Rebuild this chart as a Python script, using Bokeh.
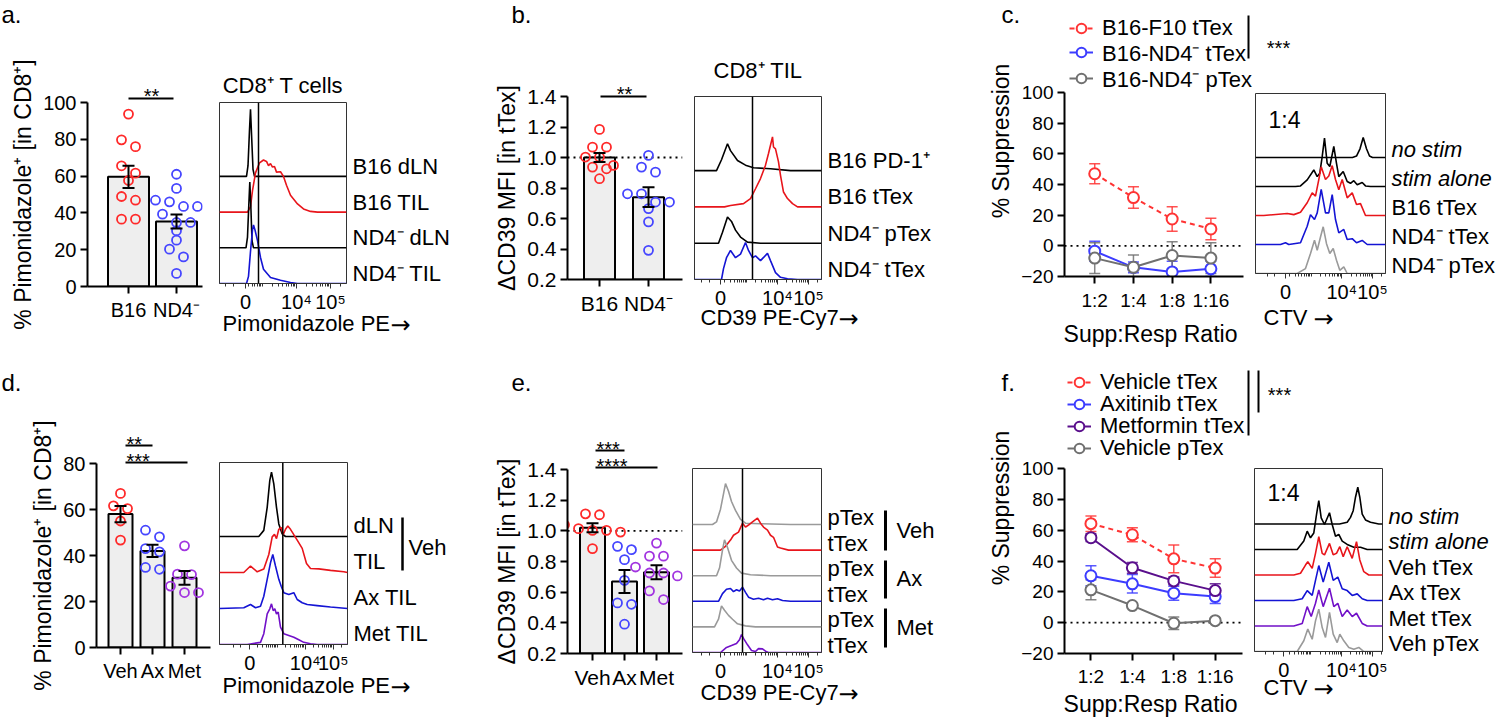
import math
from bokeh.plotting import figure
from bokeh.models import (Range1d, FixedTicker, Label, Span, Whisker, TeeHead,
                          ColumnDataSource, Legend, LegendItem)
from bokeh.embed import file_html
from bokeh.resources import INLINE
from bokeh.core.properties import value

FONT = "Liberation Sans"
ARROW_FONT = "DejaVu Sans"

# ======================= DATA =======================
# a. bar chart
a_cats = ["B16", "ND4⁻"]
a_b16 = [93.7, 79.7, 76.0, 65.6, 61.6, 57.6, 48.9, 46.9, 36.6, 36.6]
a_nd4 = [61.0, 53.3, 46.9, 46.0, 43.5, 43.5, 39.3, 34.8, 34.8, 30.3, 25.2, 20.3, 16.1, 7.1]
a_mean = [59.6, 35.3]
a_sem = [6.0, 3.8]
a_yticks = [0, 20, 40, 60, 80, 100]

# b. bar chart
b_cats = ["B16", "ND4⁻"]
b_b16 = [1.184, 1.068, 1.068, 1.003, 1.003, 0.948, 0.937, 0.926, 0.861]
b_nd4 = [1.014, 0.937, 0.904, 0.762, 0.762, 0.708, 0.708, 0.665, 0.578, 0.391]
b_mean = [1.0, 0.74]
b_sem = [0.03, 0.065]
b_yticks = [0.2, 0.4, 0.6, 0.8, 1.0, 1.2, 1.4]

# d. bar chart
d_cats = ["Veh", "Ax", "Met"]
d_veh = [67.0, 61.6, 60.4, 55.0, 46.7]
d_ax = [51.0, 48.1, 43.0, 41.6, 34.8, 34.0]
d_met = [44.2, 31.9, 31.7, 26.7, 23.9, 23.9]
d_mean = [58.0, 42.0, 30.3]
d_sem = [3.5, 2.7, 3.0]
d_yticks = [0, 20, 40, 60, 80]

# e. bar chart
e_cats = ["Veh", "Ax", "Met"]
e_veh = [1.111, 1.105, 1.04, 1.014, 1.003, 1.003, 0.992, 0.884]
e_ax = [0.899, 0.877, 0.812, 0.677, 0.53, 0.521, 0.391]
e_met = [0.92, 0.835, 0.835, 0.764, 0.725, 0.725, 0.706, 0.608, 0.552]
e_mean = [1.02, 0.67, 0.73]
e_sem = [0.03, 0.075, 0.045]
e_yticks = [0.2, 0.4, 0.6, 0.8, 1.0, 1.2, 1.4]

# c. suppression
c_cats = ["1:2", "1:4", "1:8", "1:16"]
c_f10_ttex = [47.0, 31.5, 17.5, 11.0]
c_f10_ttex_err = [6.5, 7.0, 8.0, 7.0]
c_nd4_ttex = [-3.5, -14.0, -17.0, -15.0]
c_nd4_ttex_err = [6.5, 3.5, 7.0, 5.0]
c_nd4_ptex = [-8.0, -14.0, -6.3, -8.0]
c_nd4_ptex_err = [10.0, 8.0, 9.0, 10.0]
c_yticks = [-20, 0, 20, 40, 60, 80, 100]

# f. suppression
f_cats = ["1:2", "1:4", "1:8", "1:16"]
f_veh_ttex = [64.2, 57.0, 41.4, 35.4]
f_veh_ttex_err = [5.0, 4.5, 9.0, 6.0]
f_axi_ttex = [30.4, 25.2, 19.1, 16.9]
f_axi_ttex_err = [6.5, 6.0, 4.5, 4.5]
f_met_ttex = [55.1, 35.6, 27.1, 20.8]
f_met_ttex_err = [2.5, 3.5, 2.5, 4.5]
f_veh_ptex = [21.3, 11.1, -0.4, 1.3]
f_veh_ptex_err = [6.5, 1.5, 4.0, 1.5]
f_yticks = [-20, 0, 20, 40, 60, 80, 100]

# histograms: (channel, height in track units); listed top track to bottom track
hist_tick_labels = ["0", "10⁴", "10⁵"]

ha_b16_dln = [(0, 0), (27, 0), (28.5, 0.3), (30, 1.3), (31, 1.88), (32, 1.2), (33.5, 0.2), (35, 0), (127, 0)]
ha_b16_til = [(0, 0), (28, 0), (31, 0.15), (33, 0.6), (36, 1.1), (40, 1.38), (44, 1.46), (47, 1.42), (49, 1.3),
              (51, 1.36), (53, 1.26), (55, 1.28), (57, 1.12), (61, 1.13), (64, 1.0), (67, 0.75), (71, 0.47),
              (78, 0.23), (84, 0.09), (91, 0.02), (98, 0), (127, 0)]
ha_nd4_dln = [(0, 0), (26.5, 0), (28, 0.3), (29.3, 1.2), (30.3, 1.84), (31.3, 1.2), (32.5, 0.2), (34, 0), (127, 0)]
ha_nd4_til = [(0, 0), (27, 0), (29, 0.2), (31, 0.9), (33, 1.5), (34, 1.64), (35.5, 1.5), (38, 1.2), (41, 0.73),
              (44, 0.4), (51, 0.17), (61, 0.09), (71, 0.03), (78, 0), (127, 0)]
ha_labels = ["B16 dLN", "B16 TIL", "ND4⁻ dLN", "ND4⁻ TIL"]
ha_gate = 39
ha_ticks = [26, 77, 111]

hb_b16_pd1 = [(0, 0), (22, 0), (27, 0.3), (33, 0.74), (36, 0.55), (43, 0.28), (51, 0.15), (59, 0.08), (76, 0.05),
              (96, 0), (127, 0)]
hb_b16_ttex = [(0, 0), (30, 0), (36, 0.04), (49, 0.09), (56, 0.23), (61, 0.5), (66, 0.78), (71, 1.15), (74, 1.47),
               (76, 1.7), (78, 1.93), (79, 1.65), (81, 1.6), (84, 1.24), (86, 0.87), (89, 0.41), (93, 0.23),
               (98, 0.09), (103, 0), (127, 0)]
hb_nd4_ptex = [(0, 0), (24, 0), (28, 0.3), (33, 0.72), (37, 0.6), (41, 0.36), (46, 0.17), (53, 0.03), (66, 0),
               (127, 0)]
hb_nd4_ttex = [(0, 0), (27, 0), (29, 0.3), (32, 0.6), (36, 0.8), (41, 0.6), (46, 0.7), (51, 1.02), (54, 0.8),
               (58, 0.6), (61, 0.65), (66, 0.52), (73, 0.72), (76, 0.52), (81, 0.19), (86, 0.06), (93, 0.02),
               (103, 0), (127, 0)]
hb_labels = ["B16 PD-1⁺", "B16 tTex", "ND4⁻ pTex", "ND4⁻ tTex"]
hb_gate = 58
hb_ticks = [26, 83, 114]

hc_nostim = [(0, 0), (97, 0), (101, 0.05), (104.5, 0.3), (107.7, 0.69), (111, 0.3), (114, 0.05), (117, 0), (130, 0)]
hc_stim = [(0, 0), (40, 0), (45, 0.02), (51.7, 0.23), (58.3, 0.57), (61.7, 0.34), (64.3, 0.46), (66.7, 1.03),
           (69, 1.67), (71.7, 0.8), (74.3, 0.69), (78.3, 1.38), (81, 0.8), (83.3, 0.34), (87.7, 0.52),
           (91.7, 0.17), (95, 0.11), (98.3, 0.2), (101.7, 0.06), (106.7, 0.14), (110, 0.02), (115, 0), (130, 0)]
hc_b16_ttex = [(0, 0), (8.3, 0), (31.7, 0.07), (38.3, 0.03), (45, 0.11), (51.7, 0.44), (56.7, 0.78), (60, 0.67),
               (63.3, 1.24), (65.7, 1.68), (70, 1.24), (73.3, 1.36), (76.7, 1.72), (80, 1.24), (83.3, 0.89),
               (86.7, 1.24), (91.7, 0.61), (96.7, 0.78), (101, 0.38), (105, 0.41), (110, 0), (130, 0)]
hc_nd4_ttex = [(0, 0), (25, 0), (30, 0.06), (33.3, 0), (45, 0.06), (51.7, 0.63), (55, 1.03), (59, 0.86),
               (61.7, 1.09), (65.7, 1.9), (70, 1.09), (73.3, 1.09), (76.7, 1.72), (80, 0.86), (83.3, 0.4),
               (88.3, 0.52), (91.7, 0.17), (96.7, 0.2), (101, 0.06), (106.7, 0.14), (111.7, 0), (130, 0)]
hc_nd4_ptex = [(0, 0), (41.7, 0), (50, 0.17), (55, 0.69), (59, 1.15), (61.7, 0.8), (65, 1.26), (67.7, 1.61),
               (71, 1.03), (74.3, 0.69), (77.7, 0.86), (81, 0.46), (84.3, 0.11), (88.3, 0.23), (91.7, 0), (130, 0)]
hc_labels = ["no stim", "stim alone", "B16 tTex", "ND4⁻ tTex", "ND4⁻ pTex"]
hc_ticks = [30, 86.3, 117]

hd_veh_dln = [(0, 0), (39.3, 0), (44.3, 0.17), (47.7, 0.81), (50.3, 1.56), (52, 1.79), (54.3, 1.46), (57, 0.81),
              (59.3, 0.35), (62.7, 0.07), (66, 0), (128, 0)]
hd_veh_til = [(0, 0), (24.3, 0), (31, 0.18), (37.7, 0.02), (44.3, 0.1), (49.3, 0.5), (52.7, 0.99), (55, 1.06),
              (57, 0.94), (59.3, 1.2), (61.7, 1.25), (63.7, 1.05), (66, 1.2), (68.3, 1.29), (71, 1.2),
              (74.3, 1.05), (77.7, 0.9), (82.7, 0.67), (87, 0.25), (91, 0.11), (99.3, 0.1), (111, 0.06),
              (124.3, 0.02), (128, 0)]
hd_ax_til = [(0, 0), (24.3, 0.02), (31, 0.11), (36, 0.02), (41, 0.06), (44.3, 0.34), (47.7, 0.81), (51, 1.27),
             (53.3, 1.5), (56, 1.18), (59.3, 0.81), (61.7, 0.62), (64.3, 0.44), (69.3, 0.39), (74.3, 0.44),
             (77.7, 0.25), (82.7, 0.16), (87.7, 0.11), (97.7, 0.08), (111, 0.04), (128, 0)]
hd_met_til = [(0, 0), (27.7, 0), (41, 0.06), (44.3, 0.3), (47.7, 0.85), (50.3, 0.99), (52, 1.13), (53.7, 0.94),
              (55.3, 0.99), (57, 0.85), (58.7, 0.9), (61, 0.48), (64.3, 0.3), (69.3, 0.25), (74.3, 0.2),
              (79.3, 0.13), (84.3, 0.06), (91, 0.02), (97.7, 0), (128, 0)]
hd_labels = ["dLN", "TIL", "Ax TIL", "Met TIL"]
hd_gate = 63.3
hd_ticks = [30.3, 85.7, 113.7]

he_veh_ptex = [(0, 0), (20, 0), (24, 0.1), (28, 0.6), (31, 1.2), (33, 1.6), (36, 1.3), (39, 0.9), (43, 0.55),
               (48, 0.2), (53, 0.05), (68, 0.03), (98, 0), (129, 0)]
he_veh_ttex = [(0, 0), (28, 0), (33, 0.15), (38, 0.39), (41, 0.58), (46, 0.7), (50, 1.05), (53, 0.9), (56, 0.98),
               (60, 1.1), (65, 1.25), (68, 1.05), (71, 0.9), (75, 0.78), (78, 0.58), (81, 0.5), (85, 0.12),
               (88, 0.08), (96, 0), (129, 0)]
he_ax_ptex = [(0, 0), (24, 0), (27, 0.3), (30, 1.0), (32, 1.4), (35, 1.1), (39, 0.6), (44, 0.3), (49, 0.1),
              (58, 0.04), (78, 0), (129, 0)]
he_ax_ttex = [(0, 0), (26, 0), (30, 0.3), (34, 0.47), (38, 0.5), (41, 0.38), (44, 0.45), (47, 0.4), (50, 0.55),
              (53, 0.35), (56, 0.16), (61, 0.08), (66, 0.12), (71, 0.06), (75, 0.12), (80, 0.06), (85, 0.1),
              (90, 0.03), (98, 0), (129, 0)]
he_met_ptex = [(0, 0), (22, 0), (26, 0.3), (29, 0.82), (32, 0.65), (36, 0.45), (40, 0.3), (45, 0.12), (53, 0.04),
               (63, 0), (129, 0)]
he_met_ttex = [(0, 0), (28, 0), (34, 0.2), (39, 0.27), (44, 0.35), (47, 0.5), (49, 0.7), (51, 0.55), (55, 0.3),
               (59, 0.08), (63, 0.04), (66, 0.15), (70, 0.14), (73, 0.05), (76, 0), (129, 0)]
he_labels = ["pTex", "tTex", "pTex", "tTex", "pTex", "tTex"]
he_groups = ["Veh", "Ax", "Met"]
he_gate = 50
he_ticks = [28, 85, 116]

hf_nostim = [(0, 0), (85, 0), (92.7, 0.07), (96, 0.26), (98.7, 0.52), (101, 1.05), (103.3, 1.44), (105.3, 1.05),
             (107.7, 0.39), (111, 0.16), (116, 0.07), (124.3, 0), (128, 0)]
hf_stim = [(0, 0), (42.7, 0), (49.3, 0.33), (52.7, 0.72), (56, 0.46), (59.3, 0.65), (62, 1.37), (64.3, 1.92),
           (66.7, 1.24), (70, 0.98), (75, 1.44), (77.7, 0.98), (81, 0.52), (84.3, 0.59), (87.7, 0.33),
           (92.7, 0.2), (99.3, 0.09), (106, 0.09), (112.7, 0), (128, 0)]
hf_veh_ttex = [(0, 0), (39.3, 0), (46, 0.07), (51, 0.39), (53.3, 0.52), (57.7, 0.26), (61, 0.85), (64.3, 1.5),
               (67.7, 0.85), (70, 0.79), (75, 1.24), (78.7, 0.79), (82, 0.85), (85.3, 1.11), (88.7, 0.72),
               (92.7, 1.11), (97.7, 0.65), (102, 1.31), (105.3, 0.59), (109.3, 0.13), (114.3, 0), (128, 0)]
hf_ax_ttex = [(0, 0), (39.3, 0), (47.7, 0.07), (52.7, 0.39), (57.7, 0.2), (61, 0.79), (64.3, 1.37), (68.7, 0.72),
              (74.3, 1.5), (78.7, 0.79), (83.3, 0.92), (87.7, 0.46), (92.7, 0.39), (97.7, 0.2), (102.7, 0.26),
              (107.7, 0.07), (112.7, 0), (128, 0)]
hf_met_ttex = [(0, 0), (39.3, 0), (47.7, 0.1), (52.7, 0.76), (56.7, 0.37), (61, 0.89), (64.3, 1.41), (68.7, 0.76),
               (75, 1.48), (79.3, 0.76), (83.3, 0.89), (87.7, 0.37), (92.7, 0.63), (97.7, 0.37), (102, 0.5),
               (107.7, 0.1), (112.7, 0), (128, 0)]
hf_veh_ptex = [(0, 0), (42.7, 0), (49.3, 0.42), (53.3, 0.88), (57.7, 0.48), (61, 1.2), (64.3, 1.66), (67.7, 0.94),
               (71, 0.55), (75, 1.53), (78.7, 0.68), (82.7, 0.35), (85.3, 0.68), (89.3, 0.42), (94.3, 0.16),
               (99.3, 0.09), (104.3, 0.16), (109.3, 0), (128, 0)]
hf_labels = ["no stim", "stim alone", "Veh tTex", "Ax tTex", "Met tTex", "Veh pTex"]
hf_ticks = [29.3, 87, 117.7]

# ======================= STYLE =======================
RED, BLUE, PURPLE = "#ff2a2a", "#4646ff", "#a235e0"
H_RED, H_BLUE, H_PURPLE, H_GRAY, H_BLACK = "#e8151b", "#1414d4", "#7110c8", "#9a9a9a", "#000000"
L_RED, L_BLUE, L_GRAY, L_PURPLE = "#ff3434", "#3c3cff", "#707070", "#5a0f8c"

ROOTS = []

# full-page transparent layer for free-standing texts and brackets (page pixel coordinates)
ov = figure(width=1500, height=719, x_range=Range1d(0, 1500), y_range=Range1d(719, 0),
            x_axis_type=None, y_axis_type=None, toolbar_location=None, output_backend="svg",
            min_border=0, min_border_left=0, min_border_right=0, min_border_top=0, min_border_bottom=0,
            title=None)
ov.outline_line_color = None
ov.background_fill_alpha = 0
ov.border_fill_alpha = 0
ov.styles = {"position": "absolute", "left": "0px", "top": "0px"}


def otext(x, y, s, size="22px", align="left", style="normal", font=FONT):
    ov.add_layout(Label(x=x, y=y, text=s, text_font=font, text_font_size=size, text_align=align,
                        text_baseline="middle", text_font_style=style, text_color="black"))


def oline(x0, y0, x1, y1, w=2.0):
    ov.segment(x0=[x0], y0=[y0], x1=[x1], y1=[y1], line_color="black", line_width=w)


def arrow_label(x, y, s, arrow_x):
    otext(x, y, s)
    otext(arrow_x, y + 1, "→", size="24px", font=ARROW_FONT)


class Geo:
    """canvas (ox, oy, w, h) and axis extents (L, R, T, B) in page pixels; the plot frame may
    extend further right / up (FR, FT) so that legends are not clipped"""
    def __init__(self, ox, oy, w, h, L, R, T, B, FR=None, FT=None):
        self.ox, self.oy, self.w, self.h = ox, oy, w, h
        self.L, self.R, self.T, self.B = L, R, T, B
        self.FR = R if FR is None else FR
        self.FT = T if FT is None else FT

    def fig(self, xr, yr, **kw):
        p = figure(width=self.w, height=self.h,
                   x_range=Range1d(xr[0], xr[1]), y_range=Range1d(yr[0], yr[1]),
                   min_border_left=self.L - self.ox, min_border_right=self.ox + self.w - self.FR,
                   min_border_top=self.FT - self.oy, min_border_bottom=self.oy + self.h - self.B,
                   toolbar_location=None, output_backend="svg", title=None, **kw)
        p.xgrid.visible = False
        p.ygrid.visible = False
        p.outline_line_color = None
        p.background_fill_alpha = 0
        p.border_fill_alpha = 0
        p.styles = {"position": "absolute", "left": f"{self.ox}px", "top": f"{self.oy}px"}
        ROOTS.append(p)
        return p


def cal(v1, p1, v2, p2, q_lo, q_hi):
    k = (v2 - v1) / (p2 - p1)
    return (v1 + (q_lo - p1) * k, v1 + (q_hi - p1) * k)


def style_axis(ax, size="20px", tick_out=7, standoff=4):
    ax.axis_line_width = 2
    ax.axis_line_color = "black"
    ax.major_tick_line_width = 2
    ax.major_tick_line_color = "black"
    ax.major_tick_out = tick_out
    ax.major_tick_in = 0
    ax.minor_tick_line_color = None
    ax.major_label_text_font = FONT
    ax.major_label_text_font_size = size
    ax.major_label_text_color = "black"
    ax.major_label_standoff = standoff
    ax.axis_label_text_font = FONT
    ax.axis_label_text_font_size = "23px"
    ax.axis_label_text_font_style = "normal"
    ax.axis_label_text_color = "black"
    ax.axis_label_standoff = 4


def swarm_offsets(vals, ppu, step=14.0, gap=9.0):
    order = sorted(range(len(vals)), key=lambda i: -vals[i])
    rows = []
    for i in order:
        if rows and (vals[rows[-1][0]] - vals[i]) * ppu <= gap:
            rows[-1].append(i)
        else:
            rows.append([i])
    offs = [0.0] * len(vals)
    for r in rows:
        n = len(r)
        for j, i in enumerate(r):
            offs[i] = (j - (n - 1) / 2) * step
    return offs


def bar_panel(g, cats, groups, means, sems, colors, ycal, cpos, barw_px, yticks, ylabel,
              tick_size="20px", decimals=0, refline=None):
    xr = cal(0, cpos[0], 1, cpos[1], g.L, g.FR)
    yr = cal(ycal[0], ycal[1], ycal[2], ycal[3], g.B, g.FT)
    p = g.fig(xr, yr)
    step_px = cpos[1] - cpos[0]
    ppu = (ycal[1] - ycal[3]) / (ycal[2] - ycal[0])
    idx = list(range(len(cats)))
    if refline is not None:
        p.add_layout(Span(location=refline, dimension="width", line_color="black", line_width=1.8,
                          line_dash="2 4", level="underlay"))
    p.vbar(x=idx, top=means, bottom=yr[0], width=barw_px / step_px, fill_color="#eeeeee",
           line_color="black", line_width=2)
    src = ColumnDataSource(dict(x=idx, up=[m + e for m, e in zip(means, sems)],
                                lo=[m - e for m, e in zip(means, sems)]))
    p.add_layout(Whisker(base="x", upper="up", lower="lo", source=src, dimension="height",
                         line_color="black", line_width=2, level="overlay",
                         upper_head=TeeHead(size=12, line_color="black", line_width=2),
                         lower_head=TeeHead(size=12, line_color="black", line_width=2)))
    for i, (vals, col) in enumerate(zip(groups, colors)):
        offs = swarm_offsets(vals, ppu)
        p.scatter(x=[i + o / step_px for o in offs], y=vals, marker="circle", size=9,
                  fill_alpha=0, line_color=col, line_width=1.8)
    yax, xax = p.yaxis[0], p.xaxis[0]
    style_axis(yax, tick_size)
    style_axis(xax, tick_size, standoff=5)
    yax.ticker = FixedTicker(ticks=yticks)
    yax.bounds = (yticks[0], yticks[-1])
    if decimals:
        yax.major_label_overrides = {t: f"{t:.{decimals}f}" for t in yticks}
    yax.axis_label = ylabel
    xax.ticker = FixedTicker(ticks=idx)
    xax.major_label_overrides = {i: c for i, c in enumerate(cats)}
    return p


def legend_kw(size, row_h):
    return dict(margin=0, glyph_width=24, glyph_height=row_h, label_height=row_h, label_standoff=9,
                label_text_font=FONT, label_text_font_size=size, label_text_color="black",
                border_line_color=None, background_fill_alpha=0)


def line_panel(g, cats, cpos, ycal, series, yticks, ylabel, leg_size, leg_rows, leg_x,
               tick_out=7, tick_standoff=5):
    xr = cal(0, cpos[0], 1, cpos[1], g.L, g.FR)
    yr = cal(ycal[0], ycal[1], ycal[2], ycal[3], g.B, g.FT)
    x_axis_end = cal(0, cpos[0], 1, cpos[1], g.L, g.R)[1]
    p = g.fig(xr, yr)
    # dotted reference line at 0 along the x axis extent
    p.segment(x0=[xr[0]], y0=[0], x1=[x_axis_end], y1=[0], line_color="black", line_width=1.8,
              line_dash="2 4", level="underlay")
    idx = list(range(len(cats)))
    items = []
    for name, vals, errs, col, dash in series:
        src = ColumnDataSource(dict(x=idx, y=vals, up=[v + e for v, e in zip(vals, errs)],
                                    lo=[v - e for v, e in zip(vals, errs)]))
        p.add_layout(Whisker(base="x", upper="up", lower="lo", source=src, dimension="height",
                             line_color=col, line_width=1.5, line_alpha=0.85, level="underlay",
                             upper_head=TeeHead(size=11, line_color=col, line_width=1.5, line_alpha=0.85),
                             lower_head=TeeHead(size=11, line_color=col, line_width=1.5, line_alpha=0.85)))
        r1 = p.line("x", "y", source=src, line_color=col, line_width=2, line_dash=dash)
        r2 = p.scatter("x", "y", source=src, marker="circle", size=11, fill_color="white",
                       line_color=col, line_width=2)
        items.append(LegendItem(label=value(name), renderers=[r1, r2]))
    row_h = 26
    for item, yc in zip(items, leg_rows):
        p.add_layout(Legend(items=[item], location=(leg_x - g.L, g.B - (yc + row_h / 2)), padding=0,
                            spacing=0, **legend_kw(leg_size, row_h)))
    yax, xax = p.yaxis[0], p.xaxis[0]
    style_axis(yax, "19px")
    style_axis(xax, "19px", tick_out=tick_out, standoff=tick_standoff)
    yax.ticker = FixedTicker(ticks=yticks)
    yax.bounds = (yticks[0], yticks[-1])
    yax.axis_label = ylabel
    xax.ticker = FixedTicker(ticks=idx)
    xax.bounds = (xr[0], x_axis_end)
    xax.major_label_overrides = {i: c for i, c in enumerate(cats)}
    return p


def flow_minor(ticks, width):
    t0, t4, t5 = ticks
    dw = t5 - t4
    out = []
    for base in (t4 - 2 * dw, t4 - dw, t4, t5):
        for m in range(1, 10):
            v = base + dw * math.log10(m)
            if t0 + 3 < v < width - 1 and all(abs(v - t) > 0.5 for t in ticks):
                out.append(round(v, 2))
    for f in (-0.6, -0.35):
        v = t0 + f * dw
        if v > 1:
            out.append(round(v, 2))
    return out


def hist_panel(g, curves, labels, track_px, label_dy, gate, ticks, italic=()):
    width = g.R - g.L
    H = (g.B - g.T) / track_px
    p = g.fig((0, width), (0, H), y_axis_type=None)
    p.outline_line_color = "#333333"
    p.outline_line_width = 1
    n = len(curves)
    for j, (pts, col) in enumerate(curves):
        k = n - 1 - j
        p.line(x=[q[0] for q in pts], y=[q[1] + k for q in pts], line_color=col, line_width=1.6)
    if gate is not None:
        p.add_layout(Span(location=gate, dimension="height", line_color="black", line_width=1.5))
    ax = p.xaxis[0]
    ax.ticker = FixedTicker(ticks=ticks, minor_ticks=flow_minor(ticks, width))
    ax.major_label_overrides = {t: l for t, l in zip(ticks, hist_tick_labels)}
    ax.axis_line_color = "#333333"
    ax.axis_line_width = 1
    ax.major_tick_out = 5
    ax.major_tick_in = 0
    ax.major_tick_line_width = 1
    ax.major_tick_line_color = "#333333"
    ax.minor_tick_out = 3
    ax.minor_tick_in = 0
    ax.minor_tick_line_width = 1
    ax.minor_tick_line_color = "#333333"
    ax.major_label_standoff = 2
    ax.major_label_text_font = FONT
    ax.major_label_text_font_size = "20px"
    ax.major_label_text_color = "black"
    # track labels on the right of the box
    for j, lab in enumerate(labels):
        k = n - 1 - j
        otext(g.R + 6, g.B - k * track_px - label_dy, lab,
              style="italic" if j in italic else "normal")
    return p


# ======================= PANELS (page px geometry) =======================
# ---- a ----
gA1 = Geo(0, 60, 215, 300, 87, 202, 102, 286)
bar_panel(gA1, a_cats, [a_b16, a_nd4], a_mean, a_sem, [RED, BLUE], (0, 286, 100, 102), (128, 176), 41,
          a_yticks, "% Pimonidazole⁺ [in CD8⁺]", "20px")
oline(128, 98, 173, 98)
otext(151, 95, "**", size="20px", align="center")
otext(1, 14, "a.", size="24px")

gA2 = Geo(210, 90, 150, 260, 219, 346, 102, 283)
hist_panel(gA2, [(ha_b16_dln, H_BLACK), (ha_b16_til, H_RED), (ha_nd4_dln, H_BLACK), (ha_nd4_til, H_BLUE)],
           ha_labels, 35.7, 10, ha_gate, ha_ticks)
otext(282.5, 85, "CD8⁺ T cells", align="center")
arrow_label(222, 323, "Pimonidazole PE", 390)

# ---- b ----
gB1 = Geo(490, 60, 200, 290, 567, 682, 96, 279)
bar_panel(gB1, b_cats, [b_b16, b_nd4], b_mean, b_sem, [RED, BLUE], (0.2, 279, 1.4, 96), (599, 648), 31,
          b_yticks, "ΔCD39 MFI [in tTex]", "21px", decimals=1, refline=1.0)
oline(600, 96, 646, 96)
otext(624, 93.5, "**", size="20px", align="center")
otext(511, 14, "b.", size="24px")

gB2 = Geo(685, 85, 150, 265, 694, 821, 96, 279)
hist_panel(gB2, [(hb_b16_pd1, H_BLACK), (hb_b16_ttex, H_RED), (hb_nd4_ptex, H_BLACK), (hb_nd4_ttex, H_BLUE)],
           hb_labels, 36.3, 10, hb_gate, hb_ticks)
otext(757.5, 70, "CD8⁺ TIL", align="center")
arrow_label(700, 317, "CD39 PE-Cy7", 838)

# ---- c ----
gC1 = Geo(985, 0, 320, 350, 1058, 1242, 92, 276, FR=1300, FT=5)
line_panel(gC1, c_cats, (1089, 1128.7), (-20, 276, 100, 92),
           [("B16-F10 tTex", c_f10_ttex, c_f10_ttex_err, L_RED, "5 4"),
            ("B16-ND4⁻ tTex", c_nd4_ttex, c_nd4_ttex_err, L_BLUE, "solid"),
            ("B16-ND4⁻ pTex", c_nd4_ptex, c_nd4_ptex_err, L_GRAY, "solid")],
           c_yticks, "% Suppression", "22px", [28, 54, 80], 1063,
           tick_out=7, tick_standoff=6)
otext(1150, 333, "Supp:Resp Ratio", size="23px", align="center")
otext(1001, 14, "c.", size="24px")
oline(1248, 15, 1248, 58)
otext(1278, 47.5, "***", size="20px", align="center")

gC2 = Geo(1245, 85, 150, 265, 1255, 1385, 93, 273)
hist_panel(gC2, [(hc_nostim, H_BLACK), (hc_stim, H_BLACK), (hc_b16_ttex, H_RED), (hc_nd4_ttex, H_BLUE),
                 (hc_nd4_ptex, H_GRAY)],
           hc_labels, 29, 8, None, hc_ticks, italic=(0, 1))
otext(1268, 119, "1:4", size="23px")
arrow_label(1263, 317, "CTV ", 1313)

# ---- d ----
gD1 = Geo(0, 420, 215, 295, 96, 210, 463, 647)
bar_panel(gD1, d_cats, [d_veh, d_ax, d_met], d_mean, d_sem, [RED, BLUE, PURPLE], (0, 647, 80, 463),
          (120, 152), 24, d_yticks, "% Pimonidazole⁺ [in CD8⁺]", "20px")
oline(125, 445, 152, 445)
oline(125, 462, 187, 462)
otext(126, 443, "**", size="20px")
otext(126, 460, "***", size="20px")
otext(1, 381.5, "d.", size="24px")

gD2 = Geo(212, 450, 145, 265, 219, 347, 462, 644)
hist_panel(gD2, [(hd_veh_dln, H_BLACK), (hd_veh_til, H_RED), (hd_ax_til, H_BLUE), (hd_met_til, H_PURPLE)],
           hd_labels, 36, 11, hd_gate, hd_ticks)
oline(402, 517, 402, 570, w=2.5)
otext(408, 547, "Veh")
arrow_label(222, 685, "Pimonidazole PE", 390)

# ---- e ----
gE1 = Geo(490, 420, 197, 295, 567, 682, 469, 653)
bar_panel(gE1, e_cats, [e_veh, e_ax, e_met], e_mean, e_sem, [RED, BLUE, PURPLE], (0.2, 653, 1.4, 469),
          (592, 624), 25, e_yticks, "ΔCD39 MFI [in tTex]", "21px", decimals=1, refline=1.0)
oline(595, 450, 624, 450)
oline(595, 467, 657, 467)
otext(596, 448.5, "***", size="20px")
otext(596, 465.5, "****", size="20px")
otext(511, 381.5, "e.", size="24px")

gE2 = Geo(686, 455, 145, 260, 692, 821, 468, 652)
hist_panel(gE2, [(he_veh_ptex, H_GRAY), (he_veh_ttex, H_RED), (he_ax_ptex, H_GRAY), (he_ax_ttex, H_BLUE),
                 (he_met_ptex, H_GRAY), (he_met_ttex, H_PURPLE)],
           he_labels, 25.6, 7, he_gate, he_ticks)
for (y0, y1, ym), name in zip([(510, 550, 530), (560, 598, 578), (608, 647, 627)], he_groups):
    oline(885, y0, 885, y1, w=3)
    otext(896, ym, name)
arrow_label(700, 692, "CD39 PE-Cy7", 838)

# ---- f ----
gF1 = Geo(985, 355, 320, 364, 1059, 1241, 468, 653, FR=1300, FT=362)
line_panel(gF1, f_cats, (1086, 1128.3), (-20, 653, 100, 468),
           [("Vehicle tTex", f_veh_ttex, f_veh_ttex_err, L_RED, "5 4"),
            ("Axitinib tTex", f_axi_ttex, f_axi_ttex_err, L_BLUE, "solid"),
            ("Metformin tTex", f_met_ttex, f_met_ttex_err, L_PURPLE, "solid"),
            ("Vehicle pTex", f_veh_ptex, f_veh_ptex_err, L_GRAY, "solid")],
           f_yticks, "% Suppression", "22px", [382, 404, 426, 448], 1062,
           tick_out=7, tick_standoff=5)
otext(1150, 703, "Supp:Resp Ratio", size="23px", align="center")
otext(1001, 381.5, "f.", size="24px")
oline(1248, 370, 1248, 435)
oline(1258, 370, 1258, 412)
otext(1279, 394.5, "***", size="20px", align="center")

gF2 = Geo(1248, 455, 145, 260, 1254, 1382, 468, 651)
hist_panel(gF2, [(hf_nostim, H_BLACK), (hf_stim, H_BLACK), (hf_veh_ttex, H_RED), (hf_ax_ttex, H_BLUE),
                 (hf_met_ttex, H_PURPLE), (hf_veh_ptex, H_GRAY)],
           hf_labels, 25.5, 8, None, hf_ticks, italic=(0, 1))
otext(1267, 492, "1:4", size="23px")
arrow_label(1263, 687, "CTV ", 1313)

ROOTS.append(ov)

with open("out.html", "w") as fh:
    fh.write(file_html(ROOTS, INLINE, "Figure"))
